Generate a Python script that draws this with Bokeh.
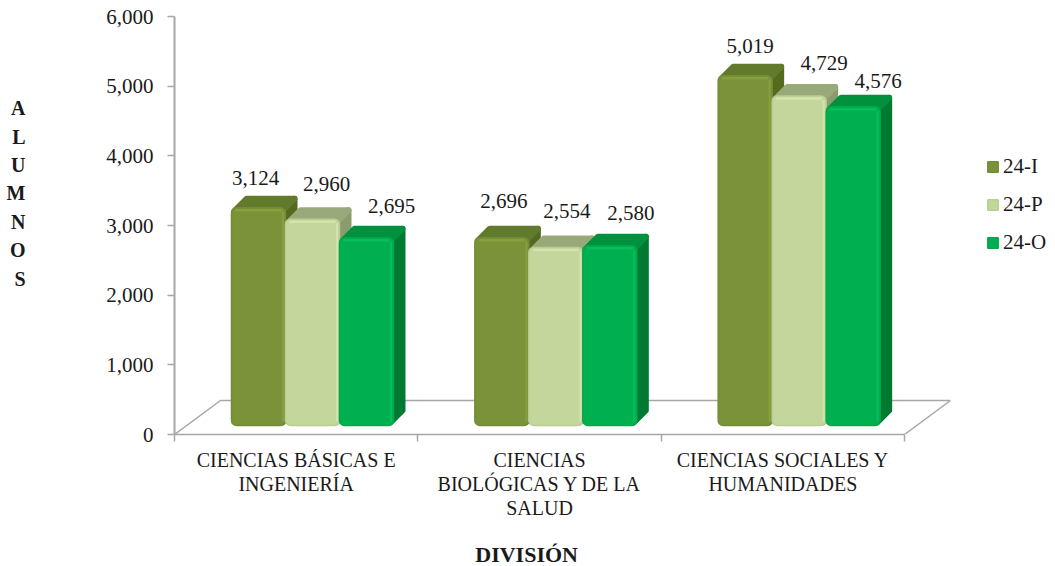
from bokeh.plotting import figure
from bokeh.models import Range1d, LinearAxis, FixedTicker, Legend, LegendItem, ColumnDataSource, NumeralTickFormatter
from bokeh.core.properties import value
from bokeh.embed import file_html
from bokeh.resources import INLINE

categories = ["CIENCIAS BÁSICAS E\nINGENIERÍA", "CIENCIAS\nBIOLÓGICAS Y DE LA\nSALUD", "CIENCIAS SOCIALES Y\nHUMANIDADES"]
series_names = ["24-I", "24-P", "24-O"]
v_24i = [3124, 2696, 5019]
v_24p = [2960, 2554, 4729]
v_24o = [2695, 2580, 4576]
y_ticks = [0, 1000, 2000, 3000, 4000, 5000, 6000]

front_colors = ["#7a9339", "#c3d69b", "#00b050"]
edge_colors = ["#748c36", "#bbcd94", "#00a94c"]
shine_colors = ["#84a03f", "#d3e3ac", "#06bd5c"]
top_colors = ["#627a2b", "#98a97a", "#00913f"]
side_colors = ["#55691f", "#8b9c6c", "#007a33"]
label_dx = [[-3, 2, 5], [14, 11, 25], [25, 21, 25]]
label_dy = [[30, 37, 30], [35, 37, 33], [32, 33, 26]]

FONT = "Liberation Serif"
TEXT = "#1a1a1a"
px_x = 730 / 3
px_y = 418 / 6000
floor_dx, floor_dy = 46 / px_x, 34 / px_y
depth_dx, depth_dy = 12 / px_x, 12 / px_y
base = 9 / px_y
bar_w = 54 / px_x
bar_start = 57 / px_x
ix, iy = 3 / px_x, 3 / px_y

p = figure(width=1055, height=566, frame_width=776, frame_height=418,
           x_range=Range1d(0, 3 + floor_dx), y_range=Range1d(0, 6000),
           output_backend="svg", toolbar_location=None,
           min_border_left=174, min_border_right=105, min_border_top=16, min_border_bottom=132,
           x_axis_location=None, y_axis_location=None)
p.grid.visible = False
p.outline_line_color = None

GRAY = "#a6a6a6"
yaxis = LinearAxis(ticker=FixedTicker(ticks=y_ticks), formatter=NumeralTickFormatter(format="0,0"),
                   axis_line_color=GRAY, axis_line_width=2, major_tick_line_color=GRAY, major_tick_line_width=1.5,
                   major_tick_out=7, major_tick_in=0, minor_tick_line_color=None,
                   major_label_text_font=FONT, major_label_text_font_size="21px", major_label_text_color=TEXT,
                   major_label_standoff=14)
p.add_layout(yaxis, "left")
ylabel_axis = LinearAxis(ticker=FixedTicker(ticks=[3460]), major_label_overrides={3460: "A\nL\nU\nM\nN\nO\nS"},
                         axis_line_color=None, major_tick_line_color=None, minor_tick_line_color=None,
                         major_label_text_font=FONT, major_label_text_font_size="20px", major_label_text_font_style="bold",
                         major_label_text_color=TEXT, major_label_text_align="center", major_label_standoff=72,
                         major_label_text_line_height=1.29)
p.add_layout(ylabel_axis, "left")

xaxis = LinearAxis(ticker=FixedTicker(ticks=[0.5, 1.5, 2.5], minor_ticks=[0, 1, 2, 3]), bounds=(0, 3),
                   major_label_overrides={0.5: categories[0], 1.5: categories[1], 2.5: categories[2]},
                   axis_line_color=GRAY, axis_line_width=1.5, major_tick_line_color=None,
                   minor_tick_line_color=GRAY, minor_tick_line_width=1.5, minor_tick_out=7, minor_tick_in=0,
                   major_label_text_font=FONT, major_label_text_font_size="20px", major_label_text_color=TEXT,
                   major_label_standoff=7, major_label_text_line_height=1.1)
p.add_layout(xaxis, "below")
x_title = 1.447
xlabel_axis = LinearAxis(ticker=FixedTicker(ticks=[x_title]), major_label_overrides={x_title: "DIVISIÓN"},
                         axis_line_color=None, major_tick_line_color=None, minor_tick_line_color=None,
                         major_label_text_font=FONT, major_label_text_font_size="22px", major_label_text_font_style="bold",
                         major_label_text_color=TEXT, major_label_standoff=14)
p.add_layout(xlabel_axis, "below")

p.line([0, floor_dx, 3 + floor_dx, 3], [0, floor_dy, floor_dy, 0], line_color=GRAY, line_width=1.5)

values = [v_24i, v_24p, v_24o]
legend_items = []
for s, vals in enumerate(values):
    first = None
    for c, v in enumerate(vals):
        x0 = c + bar_start + s * bar_w
        x1 = x0 + bar_w
        y0 = base
        y1 = base + v
        r = dict(line_join="round", line_width=6)
        # side
        p.patch([x1 - ix, x1 + depth_dx - ix, x1 + depth_dx - ix, x1 - ix],
                [y0 + iy, y0 + depth_dy + iy, y1 + depth_dy - iy, y1 - iy],
                fill_color=side_colors[s], line_color=side_colors[s], **r)
        # top
        p.patch([x0 + ix, x0 + depth_dx + ix, x1 + depth_dx - ix, x1 - ix],
                [y1 - iy, y1 + depth_dy - iy, y1 + depth_dy - iy, y1 - iy],
                fill_color=top_colors[s], line_color=top_colors[s], **r)
        # front
        f = p.quad(left=x0, right=x1, bottom=y0, top=y1, fill_color=front_colors[s],
                   line_color=edge_colors[s], line_width=1.5, border_radius=5)
        # bevel highlight along the top and right of the face
        p.line([x0 + 4 / px_x, x1 - 4 / px_x], [y1 - 2.5 / px_y, y1 - 2.5 / px_y], line_color=shine_colors[s], line_width=2.5)
        p.line([x1 - 2.5 / px_x, x1 - 2.5 / px_x], [y1 - 4 / px_y, y0 + 4 / px_y], line_color=shine_colors[s], line_width=2)
        if first is None:
            first = f
    legend_items.append(LegendItem(label=series_names[s], renderers=[first]))

src_x, src_y, src_t, src_dx, src_dy = [], [], [], [], []
for s, vals in enumerate(values):
    for c, v in enumerate(vals):
        src_x.append(c + bar_start + (s + 0.5) * bar_w)
        src_y.append(base + v)
        src_t.append(f"{v:,}")
        src_dx.append(label_dx[s][c])
        src_dy.append(-label_dy[s][c])
p.text(x="x", y="y", text="t", x_offset="dx", y_offset="dy",
       source=ColumnDataSource(dict(x=src_x, y=src_y, t=src_t, dx=src_dx, dy=src_dy)),
       text_font=value(FONT), text_font_size="21px", text_color=TEXT, text_align="center", text_baseline="middle")

legend = Legend(items=legend_items, location=(36, 179), background_fill_alpha=0, border_line_color=None,
                label_text_font=FONT, label_text_font_size="21px", label_text_color=TEXT,
                glyph_width=13, glyph_height=13, label_standoff=4, spacing=13, padding=4, margin=0, label_height=23)
p.add_layout(legend, "right")

open("out.html", "w").write(file_html(p, INLINE))
